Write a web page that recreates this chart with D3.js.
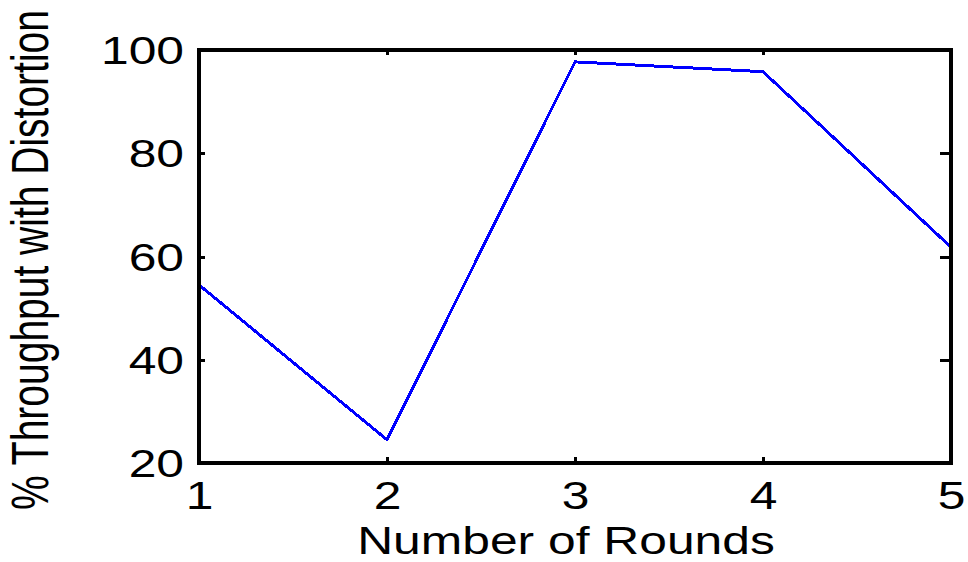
<!DOCTYPE html>
<html>
<head>
<meta charset="utf-8">
<script src="https://cdn.jsdelivr.net/npm/d3@7"></script>
<style>
  html, body { margin: 0; padding: 0; background: #fff; }
  svg { display: block; }
  text { font-family: "Liberation Sans", Arial, sans-serif; fill: #000; }
</style>
</head>
<body>
<svg id="chart" width="968" height="562"></svg>
<script>
// Throughput under distortion per round
const rounds = [1, 2, 3, 4, 5];
const throughput = [54.5, 24.5, 97.7, 95.8, 61.8];
const xTicks = [1, 2, 3, 4, 5];
const yTicks = [20, 40, 60, 80, 100];
const xTitle = "Number of Rounds";
const yTitle = "% Throughput with Distortion";

const plot = { left: 199, right: 951, top: 50, bottom: 463 };
const stretch = 1.31;   // horizontal glyph stretch
const fontSize = 38;

const svg = d3.select("#chart");

const x = d3.scaleLinear().domain([1, 5]).range([plot.left, plot.right]);
const y = d3.scaleLinear().domain([20, 100]).range([plot.bottom, plot.top]);

// data line
const line = d3.line().x((d, i) => x(rounds[i])).y(d => y(d));
svg.append("path")
  .datum(throughput)
  .attr("d", line)
  .attr("fill", "none")
  .attr("stroke", "#0000ff")
  .attr("stroke-width", 3)
  .attr("stroke-linejoin", "round")
  .attr("shape-rendering", "crispEdges");

function styleAxis(g) {
  g.select(".domain").remove();
  g.selectAll(".tick line")
    .attr("stroke", "#000")
    .attr("stroke-width", 3)
    .attr("shape-rendering", "crispEdges");
}

// left axis with labels
const leftAxis = svg.append("g")
  .attr("transform", `translate(${plot.left},0)`)
  .call(d3.axisLeft(y).tickValues(yTicks).tickSize(-6).tickPadding(15).tickFormat(d3.format("d")));
styleAxis(leftAxis);
leftAxis.selectAll(".tick text")
  .attr("font-size", fontSize)
  .attr("font-family", "Liberation Sans, Arial, sans-serif")
  .attr("x", -15 / stretch)
  .attr("dy", "0.36em")
  .attr("transform", `scale(${stretch},1)`);

// bottom axis with labels
const bottomAxis = svg.append("g")
  .attr("transform", `translate(0,${plot.bottom})`)
  .call(d3.axisBottom(x).tickValues(xTicks).tickSize(-6).tickFormat(d3.format("d")));
styleAxis(bottomAxis);
bottomAxis.selectAll(".tick text")
  .attr("font-size", fontSize)
  .attr("font-family", "Liberation Sans, Arial, sans-serif")
  .attr("y", 46)
  .attr("dy", 0)
  .attr("transform", `scale(${stretch},1)`);

// top and right axes: ticks only
const topAxis = svg.append("g")
  .attr("transform", `translate(0,${plot.top})`)
  .call(d3.axisTop(x).tickValues(xTicks).tickSize(-5).tickFormat(""));
styleAxis(topAxis);
const rightAxis = svg.append("g")
  .attr("transform", `translate(${plot.right},0)`)
  .call(d3.axisRight(y).tickValues(yTicks).tickSize(-11).tickFormat(""));
styleAxis(rightAxis);

// frame
svg.append("rect")
  .attr("x", plot.left).attr("y", plot.top)
  .attr("width", plot.right - plot.left)
  .attr("height", plot.bottom - plot.top)
  .attr("fill", "none")
  .attr("stroke", "#000")
  .attr("stroke-width", 4)
  .attr("shape-rendering", "crispEdges");

// axis titles
svg.append("text")
  .attr("transform", `translate(566,554) scale(${stretch},1)`)
  .attr("text-anchor", "middle")
  .attr("font-size", 38)
  .text(xTitle);

svg.append("text")
  .attr("transform", `translate(48,260) scale(${stretch},1) rotate(-90)`)
  .attr("text-anchor", "middle")
  .attr("font-size", 39)
  .text(yTitle);
</script>
</body>
</html>
